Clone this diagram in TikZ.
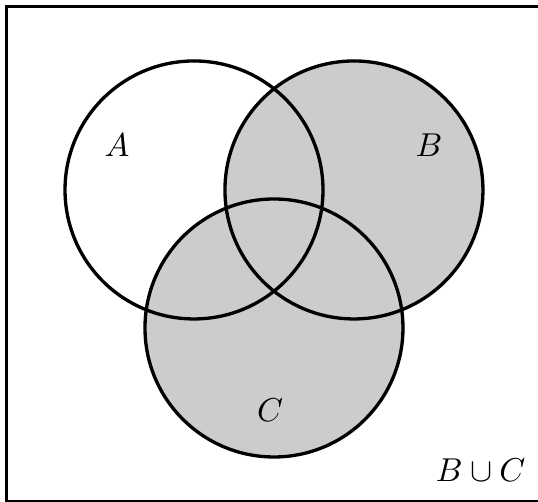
\documentclass[tikz,border=0pt]{standalone}
\usepackage{amsmath, amssymb}
\usepackage{xcolor}
\usetikzlibrary{calc}

\begin{document}
\begin{tikzpicture}[every node/.style={font=\fontsize{10.6}{13}\selectfont}]
\useasboundingbox (0,0) rectangle (6.256,5.837);
\draw[line width=1pt] (6.40,5.767) -- (0.07,5.767) -- (0.07,0.008) -- (6.40,0.008);
\coordinate (cA) at (2.256,3.628);
\coordinate (cB) at (4.116,3.628);
\coordinate (cC) at (3.186,2.023);
\fill[gray!40] (cB) circle (1.5);
\fill[gray!40] (cC) circle (1.5);
\draw[line width=1.1pt] (cA) circle (1.5);
\draw[line width=1.1pt] (cB) circle (1.5);
\draw[line width=1.1pt] (cC) circle (1.5);
\node (labA) at (1.36,4.15) {$A$};
\node (labB) at (4.99,4.15) {$B$};
\node (labC) at (3.14,1.07) {$C$};
\node (labBC) at (5.59,0.37) {$B \cup C$};
\end{tikzpicture}
\end{document}
